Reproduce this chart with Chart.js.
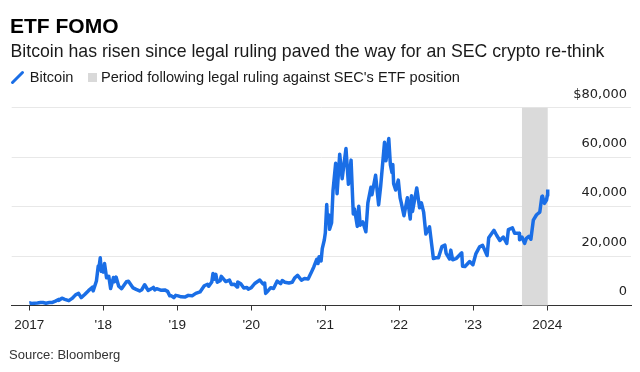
<!doctype html>
<html lang="en">
  <head>
    <title>ETF FOMO</title>
    <style>
      body { margin: 0; background: #fff; }
      #wrap { position: relative; width: 640px; height: 372px; font-family: 'Liberation Sans', Arial, sans-serif; color: #1a1a1a; }
      #wrap canvas { position: absolute; left: 0; top: 0; }
      .txt { position: absolute; white-space: nowrap; }
      #title { left: 10px; top: 15px; font-size: 21px; line-height: 21px; font-weight: bold; color: #000; }
      #subtitle { left: 10.5px; top: 43.3px; font-size: 17.7px; line-height: 17.7px; }
      .leg { top: 70px; font-size: 14.6px; line-height: 14.6px; }
      #legBtc { left: 29.7px; }
      #legPeriod { left: 101px; }
      #swatch { position: absolute; left: 87.5px; top: 72.5px; width: 9px; height: 9px; background: #d9d9d9; }
      #slash { position: absolute; left: 10px; top: 70px; }
      #source { left: 9px; top: 347.5px; font-size: 13px; line-height: 13px; color: #333; }
    </style>
  </head>
  <body>
    <div id="wrap">
      <canvas id="btc" width="640" height="372"></canvas>
      <div class="txt" id="title">ETF FOMO</div>
      <div class="txt" id="subtitle">Bitcoin has risen since legal ruling paved the way for an SEC crypto re-think</div>
      <svg id="slash" width="16" height="16"><line x1="2.5" y1="12.5" x2="12.5" y2="2.5" stroke="#1a6ee6" stroke-width="3" stroke-linecap="round"/></svg>
      <div class="txt leg" id="legBtc">Bitcoin</div>
      <div id="swatch"></div>
      <div class="txt leg" id="legPeriod">Period following legal ruling against SEC's ETF position</div>
      <div class="txt" id="source">Source: Bloomberg</div>
    </div>
  <script src="https://cdn.jsdelivr.net/npm/chart.js"></script>
  <script>

    // Bitcoin price (USD)
    const dates = [
      '2017-01-01','2017-01-05','2017-01-12','2017-01-25','2017-02-10','2017-02-25','2017-03-10','2017-03-24',
      '2017-04-10','2017-04-25','2017-05-10','2017-05-25','2017-05-27','2017-06-11','2017-06-25','2017-07-15',
      '2017-07-31','2017-08-17','2017-09-01','2017-09-14','2017-09-30','2017-10-20','2017-11-08','2017-11-12',
      '2017-11-28','2017-12-07','2017-12-10','2017-12-17','2017-12-22','2017-12-27',
      '2018-01-01','2018-01-07','2018-01-17','2018-01-28','2018-02-06','2018-02-20','2018-02-25','2018-03-05',
      '2018-03-18','2018-04-01','2018-04-25','2018-05-05','2018-05-28','2018-06-12','2018-06-29','2018-07-10',
      '2018-07-24','2018-08-10','2018-08-30','2018-09-05','2018-09-12','2018-09-21','2018-10-11','2018-10-31',
      '2018-11-14','2018-11-25','2018-12-03','2018-12-15','2018-12-24',
      '2019-01-05','2019-01-20','2019-02-07','2019-02-24','2019-03-15','2019-04-02','2019-04-23','2019-05-14',
      '2019-05-30','2019-06-05','2019-06-20','2019-06-26','2019-07-02','2019-07-10','2019-07-17','2019-07-31',
      '2019-08-06','2019-08-28','2019-09-15','2019-09-25','2019-10-10','2019-10-23','2019-10-26','2019-11-10',
      '2019-11-25','2019-12-10','2019-12-17',
      '2020-01-01','2020-01-18','2020-02-12','2020-02-28','2020-03-07','2020-03-12','2020-03-18','2020-04-06',
      '2020-04-20','2020-05-08','2020-05-25','2020-06-02','2020-06-15','2020-07-05','2020-07-21','2020-08-02',
      '2020-08-17','2020-09-05','2020-09-20','2020-10-08','2020-10-21','2020-11-05','2020-11-20','2020-11-26',
      '2020-12-01','2020-12-11','2020-12-17','2020-12-27',
      '2021-01-01','2021-01-08','2021-01-12','2021-01-18','2021-01-22','2021-02-01','2021-02-08','2021-02-21',
      '2021-02-28','2021-03-13','2021-03-25','2021-04-13','2021-04-25','2021-05-08','2021-05-19','2021-05-25',
      '2021-06-08','2021-06-15','2021-06-22','2021-07-05','2021-07-20','2021-07-30','2021-08-14','2021-08-19',
      '2021-09-06','2021-09-21','2021-10-01','2021-10-20','2021-10-27','2021-11-10','2021-11-18','2021-11-26',
      '2021-11-30','2021-12-04','2021-12-14','2021-12-27',
      '2022-01-05','2022-01-10','2022-01-24','2022-02-10','2022-02-24','2022-03-02','2022-03-07','2022-03-28',
      '2022-04-11','2022-04-20','2022-05-01','2022-05-12','2022-05-30','2022-06-13','2022-06-18','2022-07-01',
      '2022-07-13','2022-07-30','2022-08-14','2022-08-20','2022-09-06','2022-09-12','2022-09-21','2022-10-10',
      '2022-10-29','2022-11-05','2022-11-09','2022-11-21','2022-12-14','2022-12-30',
      '2023-01-14','2023-02-01','2023-02-16','2023-03-10','2023-03-18','2023-04-13','2023-04-26','2023-05-12',
      '2023-05-29','2023-06-15','2023-06-23','2023-07-13','2023-07-24','2023-08-16','2023-08-17','2023-08-29',
      '2023-09-11','2023-09-20','2023-10-02','2023-10-12','2023-10-24','2023-11-09','2023-11-25','2023-12-05',
      '2023-12-08','2023-12-18','2023-12-28','2024-01-01','2024-01-03'
    ];
    const prices = [
      1000,1050,800,900,1000,1180,1200,940,
      1200,1260,1760,2400,2100,2950,2500,1950,
      2870,4300,4900,3200,4350,6000,7400,5900,
      9900,16000,15000,19300,13800,15800,
      13500,17000,11200,11800,6900,11300,9600,11500,
      7800,6800,9600,9800,7100,6500,5900,6400,
      8400,6100,7000,7300,6300,6800,6200,6300,
      5700,3900,3900,3200,4100,
      3900,3500,3400,4100,3900,4900,5500,8000,
      8600,7800,9500,12900,10600,12600,9400,10000,
      11800,9700,10300,8500,8600,7500,9500,8800,
      7100,7300,6600,
      7200,8900,10300,8700,9100,4900,5400,7200,
      6900,9900,8800,10100,9400,9100,9400,11100,
      12200,10200,10900,10700,12900,15600,18700,17000,
      19700,18000,23000,26500,
      29300,40800,33800,36600,30800,33500,46400,57500,
      45200,61200,51300,63500,49000,58800,37000,39000,
      32000,40100,32500,33800,29800,41500,47800,44800,
      52700,40700,48200,66000,58500,67500,56900,53700,
      57000,49300,46700,50700,
      43500,41800,36300,43600,35000,44400,38000,47500,
      39500,41500,37800,28900,31800,22500,19000,19300,
      19300,23800,24400,21100,18800,22400,18500,19100,
      20800,21300,15900,15800,17800,16500,
      21000,23700,24300,20200,27400,30400,28400,26300,
      27700,25100,30700,31400,29200,29200,26600,27700,
      25100,27200,28000,26800,34500,36700,37800,44000,
      44200,41300,42600,44500,46900
    ];

    // shaded period: Grayscale ruling to start of 2024
    const shadeStart = '2023-08-29';
    const shadeEnd = '2024-01-03';

    const xTickYears = [2017, 2018, 2019, 2020, 2021, 2022, 2023, 2024];
    const xTickLabels = ['2017', "'18", "'19", "'20", "'21", "'22", "'23", '2024'];
    const yTicks = [0, 20000, 40000, 60000, 80000];
    const yTickLabels = ['0', '20,000', '40,000', '60,000', '$80,000'];

    const blue = '#1a6ee6';

    function toYear(s) {
      const [y, m, d] = s.split('-').map(Number);
      const start = Date.UTC(y, 0, 1);
      const len = Date.UTC(y + 1, 0, 1) - start;
      return y + (Date.UTC(y, m - 1, d) - start) / len;
    }

    const points = dates.map((d, i) => ({ x: toYear(d), y: prices[i] }));

    const shadePlugin = {
      id: 'shade',
      beforeDatasetsDraw(chart) {
        const { ctx, chartArea, scales: { x } } = chart;
        const x0 = x.getPixelForValue(toYear(shadeStart));
        const x1 = x.getPixelForValue(toYear(shadeEnd));
        ctx.save();
        ctx.fillStyle = '#dadada';
        ctx.fillRect(x0, chartArea.top, x1 - x0, chartArea.bottom - chartArea.top);
        ctx.restore();
      }
    };

    Chart.defaults.font.family = "'Liberation Sans', Arial, sans-serif";

    new Chart(document.getElementById('btc'), {
      type: 'line',
      data: {
        datasets: [{
          label: 'Bitcoin',
          data: points,
          borderColor: blue,
          borderWidth: 3.5,
          borderJoinStyle: 'round',
          pointRadius: 0,
          tension: 0
        }]
      },
      options: {
        responsive: false,
        animation: false,
        layout: { padding: { left: 11.7, right: 9, top: 107.7, bottom: 36.5 } },
        plugins: { legend: { display: false }, tooltip: { enabled: false } },
        scales: {
          x: {
            type: 'linear',
            min: 2016.762,
            max: 2025.131,
            afterBuildTicks: s => { s.ticks = xTickYears.map(v => ({ value: v })); },
            afterFit: s => { s.height = 30; },
            ticks: {
              autoSkip: false,
              maxRotation: 0,
              padding: 7,
              color: '#222',
              font: { size: 13.5 },
              callback: (v, i) => xTickLabels[i]
            },
            grid: { drawOnChartArea: false, drawTicks: true, tickLength: 5, color: '#333', lineWidth: 1 },
            border: { display: true, color: '#333', width: 1 }
          },
          y: {
            type: 'linear',
            position: 'right',
            min: 0,
            max: 80000,
            afterBuildTicks: s => { s.ticks = yTicks.map(v => ({ value: v })); },
            afterFit: s => { s.width = 0; },
            ticks: {
              mirror: true,
              padding: -4,
              labelOffset: -13.5,
              color: '#222',
              font: { family: "'DejaVu Sans', sans-serif", size: 13 },
              callback: (v, i) => yTickLabels[i]
            },
            grid: {
              drawTicks: false,
              lineWidth: 1,
              color: c => (c.tick && c.tick.value === 0) ? 'rgba(0,0,0,0)' : '#e8e8e8'
            },
            border: { display: false }
          }
        }
      },
      plugins: [shadePlugin]
    });

  </script>
  </body>
</html>
